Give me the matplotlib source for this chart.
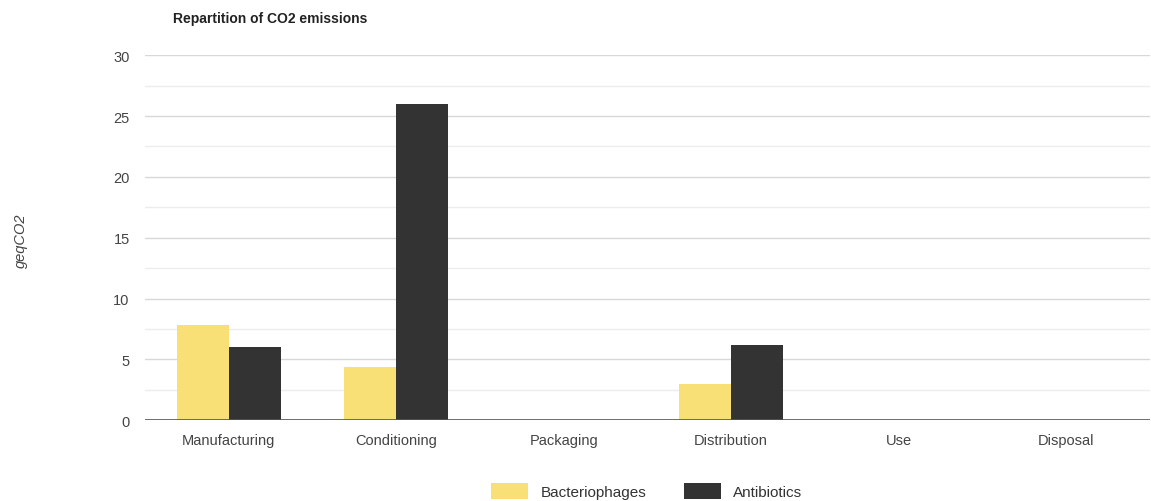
import matplotlib
matplotlib.use('Agg')
from matplotlib import pyplot as plt
import numpy as np

categories = ['Manufacturing', 'Conditioning', 'Packaging', 'Distribution', 'Use', 'Disposal']
bacteriophages = [7.8, 4.35, 0.05, 3.0, 0.05, 0.05]
antibiotics = [6.0, 26.0, 0.05, 6.2, 0.05, 0.05]

plt.rcParams['font.family'] = ['Liberation Sans', 'DejaVu Sans']

fig = plt.figure(figsize=(11.51, 5.02), dpi=100)
ax = fig.add_axes([0.126, 0.161, 0.873, 0.727])

x = np.arange(len(categories))
w = 0.31
ax.bar(x - w / 2, bacteriophages, w, color='#F9E076', label='Bacteriophages', zorder=3)
ax.bar(x + w / 2, antibiotics, w, color='#333333', label='Antibiotics', zorder=3)

ax.set_xlim(-0.5, len(categories) - 0.5)
ax.set_ylim(0, 30)
ax.set_yticks([0, 5, 10, 15, 20, 25, 30])
ax.set_yticks(np.arange(2.5, 30, 5), minor=True)
ax.grid(axis='y', which='major', color='#d8d8d8', lw=1, zorder=0)
ax.grid(axis='y', which='minor', color='#ededed', lw=1, zorder=0)
ax.axhline(0, color='#555555', lw=1.2, zorder=4)
ax.set_xticks(x)
ax.set_xticklabels(categories)
ax.tick_params(axis='both', which='both', length=0, labelsize=10.5, labelcolor='#444444')
ax.tick_params(axis='x', pad=9)
ax.tick_params(axis='y', pad=11)
for s in ax.spines.values():
    s.set_visible(False)

fig.text(0.150, 0.962, 'Repartition of CO2 emissions', fontsize=10, fontweight='bold',
         color='#222222', va='center')
fig.text(0.018, 0.52, 'geqCO2', rotation=90, style='italic', fontsize=10.5,
         color='#444444', va='center', ha='center')

fig.legend(loc='center', bbox_to_anchor=(0.562, 0.02), ncol=2, frameon=False,
           fontsize=11, handlelength=2.4, handleheight=1.2, columnspacing=2.5,
           labelcolor='#333333')

fig.savefig('out.png', dpi=100)
